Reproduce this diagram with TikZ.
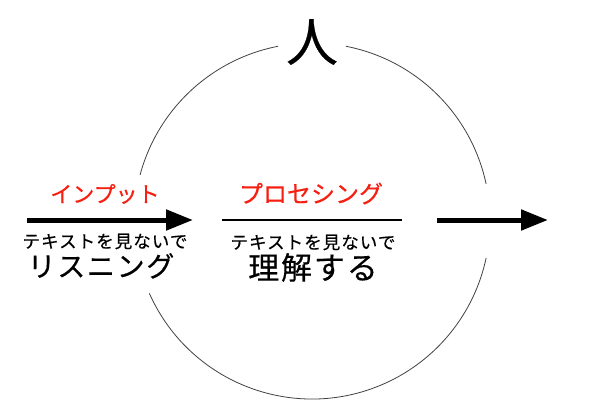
\documentclass[tikz,border=0pt]{standalone}
\usepackage{fontspec}
\newfontfamily\jpfont[FakeBold=0.45]{Noto Sans CJK JP}
\newfontfamily\jpwide[FakeBold=0.45, LetterSpace=6]{Noto Sans CJK JP}
\usepackage{tikz}
\usepackage{xcolor}
\usetikzlibrary{arrows.meta, positioning}
\definecolor{stagered}{RGB}{245,32,18}

\begin{document}
\begin{tikzpicture}[
    x=1pt, y=1pt,
    stage/.style={font=\jpfont\fontsize{22}{22}\selectfont, text=stagered, inner sep=0pt},
    hint/.style={font=\jpwide\fontsize{17.5}{17.5}\selectfont, inner sep=0pt},
    action/.style={font=\jpwide\fontsize{28}{28}\selectfont, inner sep=0pt},
    flow/.style={line width=5pt, -{Triangle[length=27pt, width=20pt]}},
    ring/.style={line width=0.8pt, black!75}
]

  \useasboundingbox (0,0) rectangle (600,416);

  % Ring round the person (left open where the labels sit)
  \coordinate (centre) at (312,195);
  \draw[ring] (centre) ++(12:178) arc[start angle=12, end angle=79, radius=178];
  \draw[ring] (centre) ++(101:178) arc[start angle=101, end angle=165, radius=178];
  \draw[ring] (centre) ++(204:178) arc[start angle=204, end angle=348, radius=178];

  % Person on top
  \node[font=\jpfont\fontsize{52}{52}\selectfont, inner sep=0pt] (person) at (312,374) {人};

  % Input stage
  \coordinate (inStart) at (27,196);
  \coordinate (inEnd) at (193,196);
  \draw[flow] (inStart) -- (inEnd);
  \node[stage] (input) at (105,222) {インプット};
  \node[hint] (inHint) at (105,174.5) {テキストを見ないで};
  \node[action, below=3.5pt of inHint, xshift=-4pt] (listen) {リスニング};

  % Processing stage
  \coordinate (procStart) at (222,196);
  \coordinate (procEnd) at (402,196);
  \draw[line width=1.5pt] (procStart) -- (procEnd);
  \node[stage, font=\jpfont\fontsize{24}{24}\selectfont] (process) at (311,222.5) {プロセシング};
  \node[hint] (procHint) at (313,173.5) {テキストを見ないで};
  \node[action, font=\jpwide\fontsize{31}{31}\selectfont, below=2.5pt of procHint] (understand) {理解する};

  % Output arrow
  \coordinate (outStart) at (437,196);
  \coordinate (outEnd) at (548,196);
  \draw[flow] (outStart) -- (outEnd);

\end{tikzpicture}
\end{document}
